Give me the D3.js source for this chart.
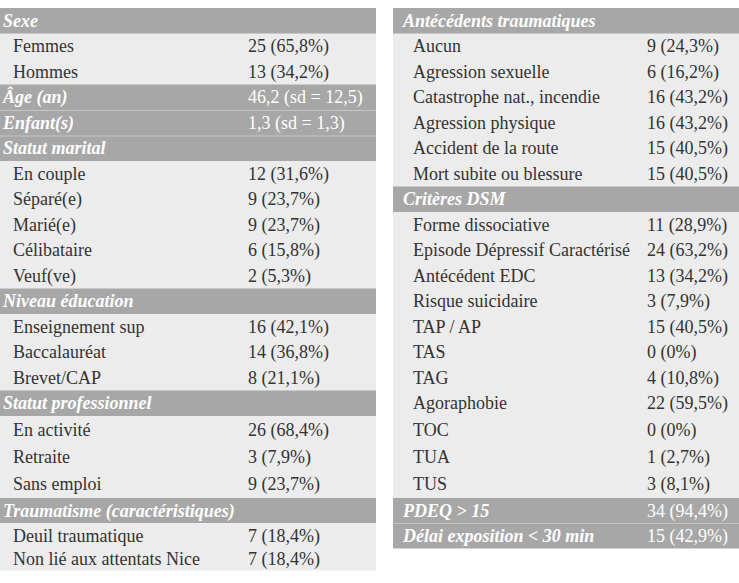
<!DOCTYPE html>
<html><head><meta charset="utf-8">
<script src="https://cdn.jsdelivr.net/npm/d3@7"></script>
<style>
html,body{margin:0;padding:0;background:#fff;}
svg{display:block;}
</style></head>
<body>
<svg id="chart" width="739" height="583"></svg>
<script>
// Left table
const leftLabels = ["Sexe","Femmes","Hommes","Âge (an)","Enfant(s)","Statut marital","En couple","Séparé(e)","Marié(e)","Célibataire","Veuf(ve)","Niveau éducation","Enseignement sup","Baccalauréat","Brevet/CAP","Statut professionnel","En activité","Retraite","Sans emploi","Traumatisme (caractéristiques)","Deuil traumatique","Non lié aux attentats Nice"];
const leftValues = ["","25 (65,8%)","13 (34,2%)","46,2 (sd = 12,5)","1,3 (sd = 1,3)","","12 (31,6%)","9 (23,7%)","9 (23,7%)","6 (15,8%)","2 (5,3%)","","16 (42,1%)","14 (36,8%)","8 (21,1%)","","26 (68,4%)","3 (7,9%)","9 (23,7%)","","7 (18,4%)","7 (18,4%)"];
const leftHeader = [1,0,0,1,1,1,0,0,0,0,0,1,0,0,0,1,0,0,0,1,0,0];
// Right table
const rightLabels = ["Antécédents traumatiques","Aucun","Agression sexuelle","Catastrophe nat., incendie","Agression physique","Accident de la route","Mort subite ou blessure","Critères DSM","Forme dissociative","Episode Dépressif Caractérisé","Antécédent EDC","Risque suicidaire","TAP / AP","TAS","TAG","Agoraphobie","TOC","TUA","TUS","PDEQ > 15","Délai exposition < 30 min"];
const rightValues = ["","9 (24,3%)","6 (16,2%)","16 (43,2%)","16 (43,2%)","15 (40,5%)","15 (40,5%)","","11 (28,9%)","24 (63,2%)","13 (34,2%)","3 (7,9%)","15 (40,5%)","0 (0%)","4 (10,8%)","22 (59,5%)","0 (0%)","1 (2,7%)","3 (8,1%)","34 (94,4%)","15 (42,9%)"];
const rightHeader = [1,0,0,0,0,0,0,1,0,0,0,0,0,0,0,0,0,0,0,1,1];

const svg = d3.select("#chart");
const FONT = '"Liberation Serif"';

function rowHeight(i){
  if (i >= 16 && i <= 18) return 27.33;
  if (i === 21) return 22;
  return i >= 19 ? 25 : 25.5;
}

function drawTable(labels, values, header, x0, x1, labelX, valueX){
  const n = labels.length;
  const heights = labels.map((d,i)=>rowHeight(i));
  const tops = [8]; for (let i=1;i<n;i++) tops.push(tops[i-1]+heights[i-1]);
  const rows = labels.map((l,i)=>({label:l, value:values[i], head:header[i]===1, y:tops[i], h:heights[i], i}));
  const xs = d3.scaleLinear().domain([0,1]).range([x0,x1]);
  const g = svg.append("g");
  g.selectAll("rect.row").data(rows).join("rect")
    .attr("x", xs(0)).attr("width", xs(1)-xs(0))
    .attr("y", d=>d.y).attr("height", d=>d.h+0.5)
    .attr("fill", d=>d.head ? "#a7a7a7" : "#ececec");
  g.selectAll("line.sep").data(rows.filter(d=>d.i>0 && d.head && rows[d.i-1].head)).join("line")
    .attr("x1", xs(0)).attr("x2", xs(1)).attr("y1", d=>d.y+0.5).attr("y2", d=>d.y+0.5)
    .attr("stroke", "#c4c4c4").attr("stroke-width", 1);
  g.selectAll("text.lab").data(rows).join("text")
    .attr("x", d=>d.head ? labelX - 10 : labelX)
    .attr("y", d=>d.y + d.h/2).attr("dy","0.34em")
    .style("font-family", FONT).style("font-size", "18px")
    .style("font-weight", d=>d.head ? "bold" : "normal")
    .style("font-style", d=>d.head ? "italic" : "normal")
    .attr("fill", d=>d.head ? "#ffffff" : "#333333")
    .text(d=>d.label);
  g.selectAll("text.val").data(rows.filter(d=>d.value)).join("text")
    .attr("x", valueX)
    .attr("y", d=>d.y + d.h/2).attr("dy","0.34em")
    .style("font-family", FONT).style("font-size", "18px")
    .attr("fill", d=>d.head ? "#ffffff" : "#333333")
    .text(d=>d.value);
}

drawTable(leftLabels, leftValues, leftHeader, 0, 376, 13, 248);
drawTable(rightLabels, rightValues, rightHeader, 393, 739, 413, 647);
</script>
</body></html>
